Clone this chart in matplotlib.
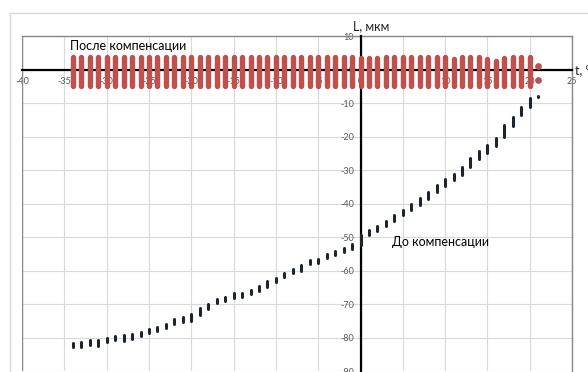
"""
Удлинение L (мкм) в зависимости от температуры t до и после компенсации.
Каждый столбик - разброс точек измерений при одной температуре.
"""
import matplotlib
matplotlib.use("Agg")
import matplotlib.pyplot as plt
from matplotlib.lines import Line2D

plt.rcParams["font.family"] = ["Lato", "DejaVu Sans"]

# ── Данные ────────────────────────────────────────────────────────────────
# До компенсации: температура и диапазон значений (мин / макс) в столбике
t_before = list(range(-34, 22))
L_before_lo = [-82.8, -82.6, -82.3, -82.4, -81.4, -80.7, -80.9, -80.5, -79.6, -78.7,
               -77.9, -77.0, -76.0, -75.4, -75.0, -73.2, -71.4, -69.7, -68.9, -68.1,
               -67.7, -67.0, -66.1, -64.7, -63.4, -62.0, -60.8, -60.0, -58.1, -57.7,
               -56.2, -55.3, -54.4, -53.6, -52.2, -49.4, -48.1, -46.6, -45.0, -43.4,
               -41.8, -40.5, -38.7, -36.6, -34.7, -32.8, -31.3, -29.0, -26.5, -24.7,
               -22.7, -20.0, -16.8, -13.5, -11.1, -8.2]
L_before_hi = [-81.6, -81.4, -80.6, -80.8, -80.2, -79.5, -79.3, -78.9, -78.4, -77.5,
               -76.7, -75.8, -74.4, -73.8, -72.8, -71.0, -69.8, -68.5, -67.7, -66.5,
               -66.5, -65.8, -64.5, -63.1, -62.2, -60.8, -59.6, -58.4, -56.9, -56.5,
               -55.0, -54.1, -53.2, -52.0, -49.4, -47.8, -46.5, -45.0, -43.4, -41.8,
               -40.2, -38.3, -36.5, -34.4, -32.5, -31.2, -29.1, -26.4, -24.3, -22.5,
               -20.5, -16.6, -14.2, -11.1, -8.5, -7.8]

# После компенсации: столбики от -34 до 20 и две отдельные точки при 21
t_after = list(range(-34, 21))
L_after_lo = [-4.7] * 55
L_after_hi = [3.8] * 34 + [3.4, 3.4, 3.4, 3.8, 3.8, 3.8, 3.8, 3.8, 3.8, 3.8,
                           3.8, 3.1, 3.8, 3.8, 3.8, 3.1, 2.7, 3.4, 3.8, 3.8, 3.8]
t_after_dots = [21, 21]
L_after_dots = [1.0, -3.0]

x_ticks = list(range(-40, 30, 5))
y_ticks = list(range(-90, 20, 10))

RED = "#c0504d"
DARK = "#1d2430"
GRID = "#d9d9d9"
FRAME = "#868686"
LABEL = "#595959"

fig = plt.figure(figsize=(5.88, 3.72), dpi=100)
ax = fig.add_axes([0.0376, 0.0019, 0.9352, 0.9005])

# ── Рамка области диаграммы (светло-серая) ────────────────────────────────
fig.add_artist(Line2D([0.017, 0.017], [0.0, 0.9659], color=GRID, lw=1))
fig.add_artist(Line2D([0.017, 1.0], [0.9659, 0.9659], color=GRID, lw=1))

# ── Серии ────────────────────────────────────────────────────────────────
ax.vlines(t_after, L_after_lo, L_after_hi, colors=RED, lw=3.9,
          capstyle="round", zorder=3)
ax.scatter(t_after_dots, L_after_dots, s=24, color=RED, lw=0, zorder=3)
ax.vlines(t_before, L_before_lo, L_before_hi, colors=DARK, lw=2.2,
          capstyle="round", zorder=3)

# ── Оси через начало координат ────────────────────────────────────────────
ax.set_xlim(-40, 25)
ax.set_ylim(-90, 10)
ax.set_xticks(x_ticks)
ax.set_yticks(y_ticks)
ax.set_axisbelow(True)
ax.grid(True, color=GRID, lw=0.8)

ax.spines["left"].set_position(("data", 0))
ax.spines["bottom"].set_position(("data", 0))
for s in ("left", "bottom"):
    ax.spines[s].set_color("black")
    ax.spines[s].set_linewidth(1.6)
    ax.spines[s].set_zorder(2.6)
for s in ("top", "right"):
    ax.spines[s].set_color(FRAME)
    ax.spines[s].set_linewidth(1.0)
ax.axvline(-40, color=FRAME, lw=1.0, zorder=2.5)

ax.tick_params(axis="x", length=0, pad=5.5, labelsize=6.5, labelcolor=LABEL)
ax.tick_params(axis="y", length=0, pad=4.5, labelsize=6.5, labelcolor=LABEL)
ax.set_xticklabels([str(v) for v in x_ticks])
ax.set_yticklabels([str(v) for v in y_ticks])
for lbl in ax.get_xticklabels() + ax.get_yticklabels():
    lbl.set_clip_on(False)

# ── Подписи ───────────────────────────────────────────────────────────────
ax.text(-0.9, 12.9, "L, мкм", fontsize=9, color="#222222",
        ha="left", va="center", clip_on=False)
ax.text(25.35, 0, "t, °C", fontsize=9, color="#222222",
        ha="left", va="center", clip_on=False)
ax.text(-34.3, 7.25, "После компенсации", fontsize=9, color="black",
        ha="left", va="center")
ax.text(3.7, -51.3, "До компенсации", fontsize=9, color="black",
        ha="left", va="center")

fig.savefig("out.png", dpi=100)
